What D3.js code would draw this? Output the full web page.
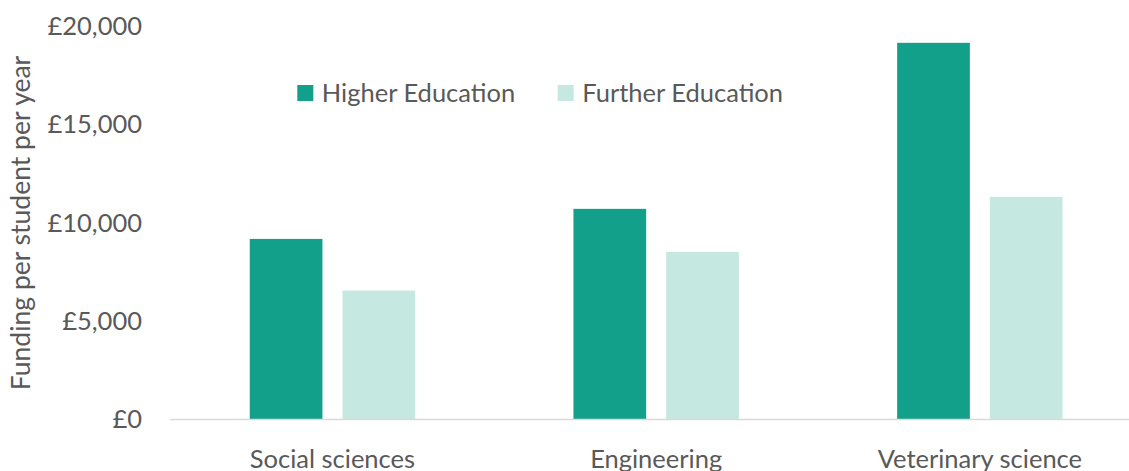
<!DOCTYPE html>
<html>
<head>
<meta charset="utf-8">
<script src="https://cdn.jsdelivr.net/npm/d3@7"></script>
<style>
  html, body { margin: 0; padding: 0; background: #fff; }
  svg { display: block; }
  text { font-family: Lato, "Open Sans", sans-serif; fill: #595959; }
</style>
</head>
<body>
<svg id="chart" width="1129" height="471"></svg>
<script>
const categories = ["Social sciences", "Engineering", "Veterinary science"];
const seriesNames = ["Higher Education", "Further Education"];
const higherEducation = [9190, 10720, 19170];
const furtherEducation = [6560, 8530, 11330];
const yTicks = [0, 5000, 10000, 15000, 20000];
const yTickLabels = ["£0", "£5,000", "£10,000", "£15,000", "£20,000"];
const seriesColors = ["#12A08A", "#C5E8E1"];

const svg = d3.select("#chart");
const fontSize = 25.5;

const x0 = d3.scaleBand().domain(categories).range([170.6, 1141.7]).padding(0);
const groupHalf = 82.7;
const x1 = d3.scaleBand().domain(seriesNames)
  .range([x0.bandwidth() / 2 - groupHalf, x0.bandwidth() / 2 + groupHalf])
  .paddingInner(20 / 92.7).paddingOuter(0);
const y = d3.scaleLinear().domain([0, 20000]).range([419.5, 26.5]);

// y axis labels
const yAxis = d3.axisLeft(y).tickValues(yTicks)
  .tickFormat((d, i) => yTickLabels[i]).tickSize(0).tickPadding(0);
const gy = svg.append("g").attr("transform", "translate(142,0)").call(yAxis);
gy.select(".domain").remove();
gy.selectAll("text").style("font-family", "Lato, 'Open Sans', sans-serif")
  .style("font-size", fontSize + "px").attr("fill", "#595959");

// bars
const rows = categories.map((c, i) => ({ cat: c, vals: [higherEducation[i], furtherEducation[i]] }));
const groups = svg.append("g").selectAll("g").data(rows).join("g")
  .attr("transform", d => `translate(${x0(d.cat)},0)`);
groups.selectAll("rect").data(d => d.vals.map((v, j) => ({ s: seriesNames[j], v, j })))
  .join("rect")
  .attr("x", d => x1(d.s))
  .attr("width", x1.bandwidth())
  .attr("y", d => y(d.v))
  .attr("height", d => y(0) - y(d.v))
  .attr("fill", d => seriesColors[d.j]);

// x axis line
svg.append("line").attr("x1", 170).attr("x2", 1141.7)
  .attr("y1", y(0)).attr("y2", y(0))
  .attr("stroke", "#D9D9D9").attr("stroke-width", 1.5);

// x labels
const xAxis = d3.axisBottom(x0).tickSize(0).tickPadding(0);
const gx = svg.append("g").attr("transform", `translate(0,${y(0)})`).call(xAxis);
gx.select(".domain").remove();
gx.selectAll("text").attr("dy", null).attr("y", 48)
  .style("font-family", "Lato, 'Open Sans', sans-serif")
  .style("font-size", fontSize + "px").attr("fill", "#595959");

// y title
svg.append("text")
  .attr("transform", `translate(30,223) rotate(-90)`)
  .attr("text-anchor", "middle")
  .style("font-size", "26.5px")
  .text("Funding per student per year");

// legend
const legendX = [297.3, 557.7];
const lg = svg.append("g").selectAll("g").data(seriesNames).join("g")
  .attr("transform", (d, i) => `translate(${legendX[i]},85)`);
lg.append("rect").attr("width", 16).attr("height", 16).attr("fill", (d, i) => seriesColors[i]);
lg.append("text").attr("x", 24.5).attr("y", 16.5).style("font-size", fontSize + "px").text(d => d);
</script>
</body>
</html>
